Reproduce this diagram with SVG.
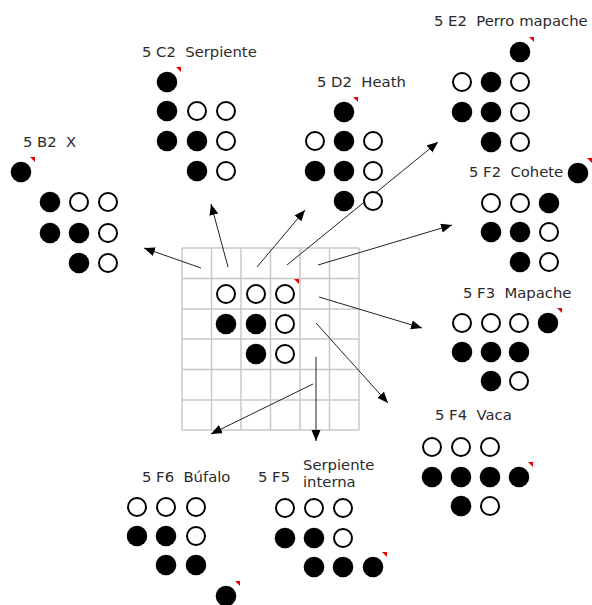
<svg xmlns="http://www.w3.org/2000/svg" width="592" height="605" viewBox="0 0 592 605">
  <style>
    .lbl { font-family: "DejaVu Sans", Verdana, sans-serif; font-size: 14.8px; fill: #2a2a2a; white-space: pre; }
    .o { fill: #fff; stroke: #000; stroke-width: 2; }
    .f { fill: #000; }
    .mk { fill: #e00; }
    .grid line { stroke: #c8c8c8; stroke-width: 1.5; }
    .conn line { stroke: #222; stroke-width: 1; marker-end: url(#arrow); }
  </style>
  <defs>
    <marker id="arrow" markerUnits="userSpaceOnUse" markerWidth="12" markerHeight="10" refX="11" refY="4.5" orient="auto">
      <path d="M0,0 L11,4.5 L0,9 Z" fill="#000"/>
    </marker>
    <circle id="oc" r="9" class="o"/>
    <circle id="fc" r="10.3" class="f"/>
    <!-- small red corner tick drawn at upper right of a stone -->
    <path id="tick" d="M9,-15 L14,-15 L14,-10 Z" class="mk"/>
  </defs>

  <rect width="592" height="605" fill="#fff"/>

  <!-- central board -->
  <g id="board">
    <g class="grid">
      <line x1="182" y1="248" x2="182" y2="430"/>
      <line x1="211.5" y1="248" x2="211.5" y2="430"/>
      <line x1="241" y1="248" x2="241" y2="430"/>
      <line x1="270.5" y1="248" x2="270.5" y2="430"/>
      <line x1="300" y1="248" x2="300" y2="430"/>
      <line x1="329.5" y1="248" x2="329.5" y2="430"/>
      <line x1="359" y1="248" x2="359" y2="430"/>
      <line x1="182" y1="248" x2="359" y2="248"/>
      <line x1="182" y1="278.5" x2="359" y2="278.5"/>
      <line x1="182" y1="309" x2="359" y2="309"/>
      <line x1="182" y1="339" x2="359" y2="339"/>
      <line x1="182" y1="369.5" x2="359" y2="369.5"/>
      <line x1="182" y1="400" x2="359" y2="400"/>
      <line x1="182" y1="430" x2="359" y2="430"/>
    </g>
    <use href="#oc" x="226" y="294"/>
    <use href="#oc" x="256" y="294"/>
    <use href="#oc" x="285" y="294"/>
    <use href="#tick" x="285" y="294"/>
    <use href="#fc" x="226" y="324"/>
    <use href="#fc" x="256" y="324"/>
    <use href="#oc" x="285" y="324"/>
    <use href="#fc" x="256" y="354"/>
    <use href="#oc" x="285" y="354"/>
  </g>

  <!-- connectors -->
  <g id="connectors" class="conn">
    <line x1="201" y1="268" x2="144" y2="248"/>
    <line x1="228" y1="267" x2="211" y2="204"/>
    <line x1="257" y1="267" x2="305" y2="210"/>
    <line x1="287" y1="265" x2="438" y2="142"/>
    <line x1="318" y1="265" x2="452" y2="225"/>
    <line x1="319" y1="297" x2="422" y2="328"/>
    <line x1="316" y1="323" x2="388" y2="403"/>
    <line x1="316" y1="357" x2="316" y2="441"/>
    <line x1="313" y1="384" x2="211" y2="434"/>
  </g>

  <g id="B2">
    <text class="lbl" x="23" y="147">5 B2  X</text>
    <use href="#fc" x="21" y="172"/>
    <use href="#tick" x="21" y="172"/>
    <use href="#fc" x="50" y="202"/>
    <use href="#oc" x="79" y="202"/>
    <use href="#oc" x="108" y="202"/>
    <use href="#fc" x="50" y="233"/>
    <use href="#fc" x="79" y="233"/>
    <use href="#oc" x="108" y="233"/>
    <use href="#fc" x="79" y="263"/>
    <use href="#oc" x="108" y="263"/>
  </g>

  <g id="C2">
    <text class="lbl" x="142" y="57">5 C2  Serpiente</text>
    <use href="#fc" x="167" y="82"/>
    <use href="#tick" x="167" y="82"/>
    <use href="#fc" x="167" y="111"/>
    <use href="#oc" x="197" y="111"/>
    <use href="#oc" x="226" y="111"/>
    <use href="#fc" x="167" y="141"/>
    <use href="#fc" x="197" y="141"/>
    <use href="#oc" x="226" y="141"/>
    <use href="#fc" x="197" y="171"/>
    <use href="#oc" x="226" y="171"/>
  </g>

  <g id="D2">
    <text class="lbl" x="317" y="87">5 D2  Heath</text>
    <use href="#fc" x="344" y="112"/>
    <use href="#tick" x="344" y="112"/>
    <use href="#oc" x="315" y="141"/>
    <use href="#fc" x="344" y="141"/>
    <use href="#oc" x="373" y="141"/>
    <use href="#fc" x="315" y="171"/>
    <use href="#fc" x="344" y="171"/>
    <use href="#oc" x="373" y="171"/>
    <use href="#fc" x="344" y="201"/>
    <use href="#oc" x="373" y="201"/>
  </g>

  <g id="E2">
    <text class="lbl" x="434" y="26">5 E2  Perro mapache</text>
    <use href="#fc" x="520" y="52"/>
    <use href="#tick" x="520" y="52"/>
    <use href="#oc" x="462" y="82"/>
    <use href="#fc" x="491" y="82"/>
    <use href="#oc" x="520" y="82"/>
    <use href="#fc" x="462" y="112"/>
    <use href="#fc" x="491" y="112"/>
    <use href="#oc" x="520" y="112"/>
    <use href="#fc" x="491" y="142"/>
    <use href="#oc" x="520" y="142"/>
  </g>

  <g id="F2">
    <text class="lbl" x="469" y="177">5 F2  Cohete</text>
    <use href="#fc" x="578" y="173"/>
    <use href="#tick" x="578" y="173"/>
    <use href="#oc" x="491" y="203"/>
    <use href="#oc" x="520" y="203"/>
    <use href="#fc" x="549" y="203"/>
    <use href="#fc" x="491" y="232"/>
    <use href="#fc" x="520" y="232"/>
    <use href="#oc" x="549" y="232"/>
    <use href="#fc" x="520" y="262"/>
    <use href="#oc" x="549" y="262"/>
  </g>

  <g id="F3">
    <text class="lbl" x="463" y="298">5 F3  Mapache</text>
    <use href="#oc" x="462" y="323"/>
    <use href="#oc" x="491" y="323"/>
    <use href="#oc" x="519" y="323"/>
    <use href="#fc" x="548" y="323"/>
    <use href="#tick" x="548" y="323"/>
    <use href="#fc" x="462" y="352"/>
    <use href="#fc" x="491" y="352"/>
    <use href="#fc" x="519" y="352"/>
    <use href="#fc" x="491" y="381"/>
    <use href="#oc" x="519" y="381"/>
  </g>

  <g id="F4">
    <text class="lbl" x="435" y="420">5 F4  Vaca</text>
    <use href="#oc" x="432" y="447"/>
    <use href="#oc" x="461" y="447"/>
    <use href="#oc" x="490" y="447"/>
    <use href="#fc" x="432" y="477"/>
    <use href="#fc" x="461" y="477"/>
    <use href="#fc" x="490" y="477"/>
    <use href="#fc" x="519" y="477"/>
    <use href="#tick" x="519" y="477"/>
    <use href="#fc" x="461" y="506"/>
    <use href="#oc" x="490" y="506"/>
  </g>

  <g id="F6">
    <text class="lbl" x="142" y="482">5 F6  Búfalo</text>
    <use href="#oc" x="137" y="507"/>
    <use href="#oc" x="166" y="507"/>
    <use href="#oc" x="196" y="507"/>
    <use href="#fc" x="137" y="536"/>
    <use href="#fc" x="166" y="536"/>
    <use href="#oc" x="196" y="536"/>
    <use href="#fc" x="166" y="565"/>
    <use href="#fc" x="196" y="565"/>
    <use href="#fc" x="226" y="596"/>
    <use href="#tick" x="226" y="596"/>
  </g>

  <g id="F5">
    <text class="lbl" x="258" y="482">5 F5</text>
    <text class="lbl" x="303" y="470">Serpiente</text>
    <text class="lbl" x="303" y="487">interna</text>
    <use href="#oc" x="285" y="508"/>
    <use href="#oc" x="314" y="508"/>
    <use href="#oc" x="343" y="508"/>
    <use href="#fc" x="285" y="538"/>
    <use href="#fc" x="314" y="538"/>
    <use href="#oc" x="343" y="538"/>
    <use href="#fc" x="314" y="567"/>
    <use href="#fc" x="343" y="567"/>
    <use href="#fc" x="373" y="567"/>
    <use href="#tick" x="373" y="567"/>
  </g>
</svg>
